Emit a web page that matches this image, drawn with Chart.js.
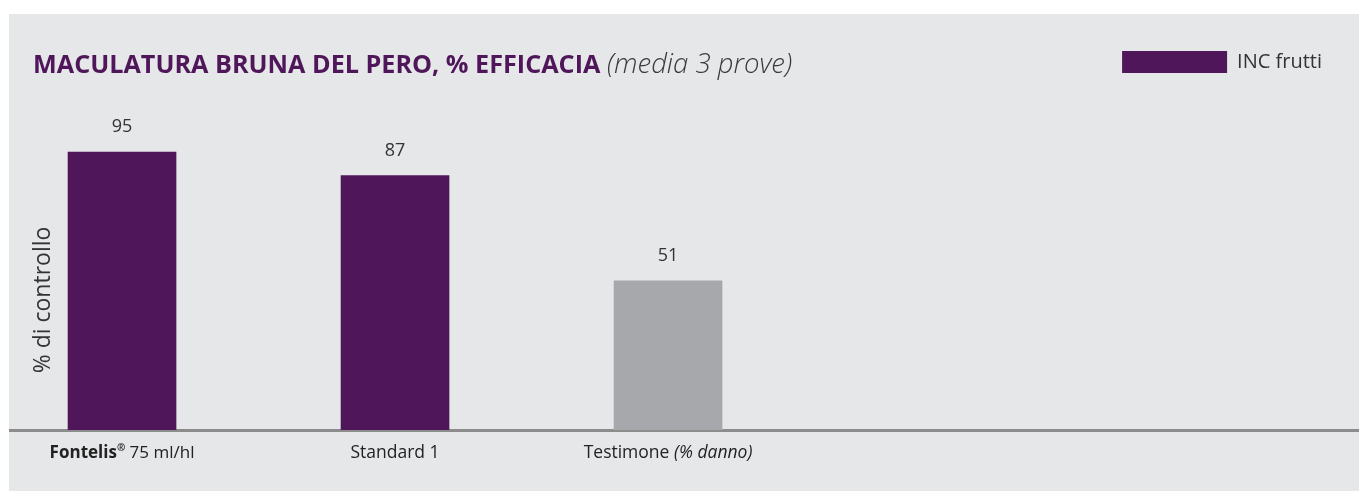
<!DOCTYPE html>
<html>
<head>
<meta charset="utf-8">
<script src="https://cdn.jsdelivr.net/npm/chart.js@4"></script>
<style>
  html, body { margin: 0; padding: 0; background: #fff; }
  #panel { position: absolute; left: 9px; top: 14px; width: 1350px; height: 477px; background: #e6e7e9; }
  canvas { display: block; }
</style>
</head>
<body>
<div id="panel"><canvas id="chartEfficacy" width="1350" height="477"></canvas></div>
<script>
// data
var categories = ['Fontelis® 75 ml/hl', 'Standard 1', 'Testimone (% danno)'];
var efficacy = [95, 87, 51];
var isControl = [false, false, true];
var seriesName = 'INC frutti';
var chartTitle = 'MACULATURA BRUNA DEL PERO, % EFFICACIA';
var chartNote = '(media 3 prove)';
var yTitle = '% di controllo';

var purple = '#4f1759';
var grey = '#a7a8ab';
var textColor = '#333333';
var fontName = '"Open Sans", Lato, sans-serif';

// title drawn on one line with two styles
var titlePlugin = {
    id: 'mixedTitle',
    afterDraw: function(chart) {
        var ctx = chart.ctx;
        ctx.save();
        ctx.textBaseline = 'alphabetic';
        ctx.textAlign = 'left';
        ctx.font = 'bold 25.2px ' + fontName;
        ctx.fillStyle = purple;
        ctx.fillText(chartTitle, 24, 59);
        var w = ctx.measureText(chartTitle + ' ').width;
        ctx.font = 'italic 300 27.5px ' + fontName;
        ctx.fillStyle = '#3a3a3a';
        ctx.fillText(chartNote, 24 + w, 59);

        // y axis title
        ctx.translate(34, 286);
        ctx.rotate(-Math.PI / 2);
        ctx.textAlign = 'center';
        ctx.textBaseline = 'middle';
        ctx.font = '23px ' + fontName;
        ctx.fillStyle = textColor;
        ctx.fillText(yTitle, 0, 0);
        ctx.restore();
    }
};

// values above bars and category labels under the axis
var labelsPlugin = {
    id: 'barLabels',
    afterDatasetsDraw: function(chart) {
        var ctx = chart.ctx;
        var meta = chart.getDatasetMeta(0);
        var xScale = chart.scales.x;
        ctx.save();
        ctx.textAlign = 'center';
        ctx.textBaseline = 'middle';
        meta.data.forEach(function(bar, i) {
            ctx.font = '18px ' + fontName;
            ctx.fillStyle = textColor;
            ctx.fillText(efficacy[i], bar.x, bar.y - 25);

            drawCategory(ctx, categories[i], xScale.getPixelForValue(i), chart.chartArea.bottom + 23);
        });
        ctx.restore();
    }
};

function drawCategory(ctx, text, cx, cy) {
    var parts = [];
    var m = text.match(/^(\S+)®(.*)$/);
    if (m) {
        parts.push({ t: m[1], f: 'bold 17px ' + fontName, dy: 0 });
        parts.push({ t: '®', f: 'bold 10px ' + fontName, dy: -5 });
        parts.push({ t: m[2], f: '17px ' + fontName, dy: 0 });
    } else {
        var p = text.match(/^(.*?)(\(.*\))$/);
        if (p) {
            parts.push({ t: p[1], f: '17.5px ' + fontName, dy: 0 });
            parts.push({ t: p[2], f: 'italic 17.5px ' + fontName, dy: 0 });
        } else {
            parts.push({ t: text, f: '17.5px ' + fontName, dy: 0 });
        }
    }
    var total = 0;
    parts.forEach(function(part) {
        ctx.font = part.f;
        part.w = ctx.measureText(part.t).width;
        total += part.w;
    });
    var x = cx - total / 2;
    ctx.textAlign = 'left';
    ctx.fillStyle = '#222222';
    parts.forEach(function(part) {
        ctx.font = part.f;
        ctx.fillText(part.t, x, cy + part.dy);
        x += part.w;
    });
    ctx.textAlign = 'center';
}

var barData = categories.map(function(c, i) {
    return { x: i, y: efficacy[i] };
});

var canvas = document.querySelector('#chartEfficacy').getContext('2d');
var efficacyChart = new Chart(canvas, {
    type: 'bar',
    data: {
        datasets: [{
            label: seriesName,
            data: barData,
            backgroundColor: function(c) {
                return (c.dataIndex !== undefined && isControl[c.dataIndex]) ? grey : purple;
            },
            borderWidth: 0,
            barThickness: 108
        }]
    },
    plugins: [titlePlugin, labelsPlugin],
    options: {
        responsive: false,
        animation: false,
        layout: {
            padding: { left: 0, right: 0, top: 0, bottom: 61 }
        },
        plugins: {
            title: { display: false },
            tooltip: { enabled: false },
            legend: {
                position: 'top',
                align: 'end',
                labels: {
                    boxWidth: 105,
                    boxHeight: 22,
                    color: textColor,
                    font: { family: fontName, size: 20 },
                    padding: 37
                }
            }
        },
        scales: {
            x: {
                type: 'linear',
                offset: false,
                min: -0.414,
                max: 4.531,
                ticks: { display: false },
                grid: { display: false, drawTicks: false, offset: false },
                border: { display: true, color: '#8c8c8c', width: 3 }
            },
            y: {
                display: false,
                min: 0,
                max: 118.6
            }
        }
    }
});
</script>
</body>
</html>
